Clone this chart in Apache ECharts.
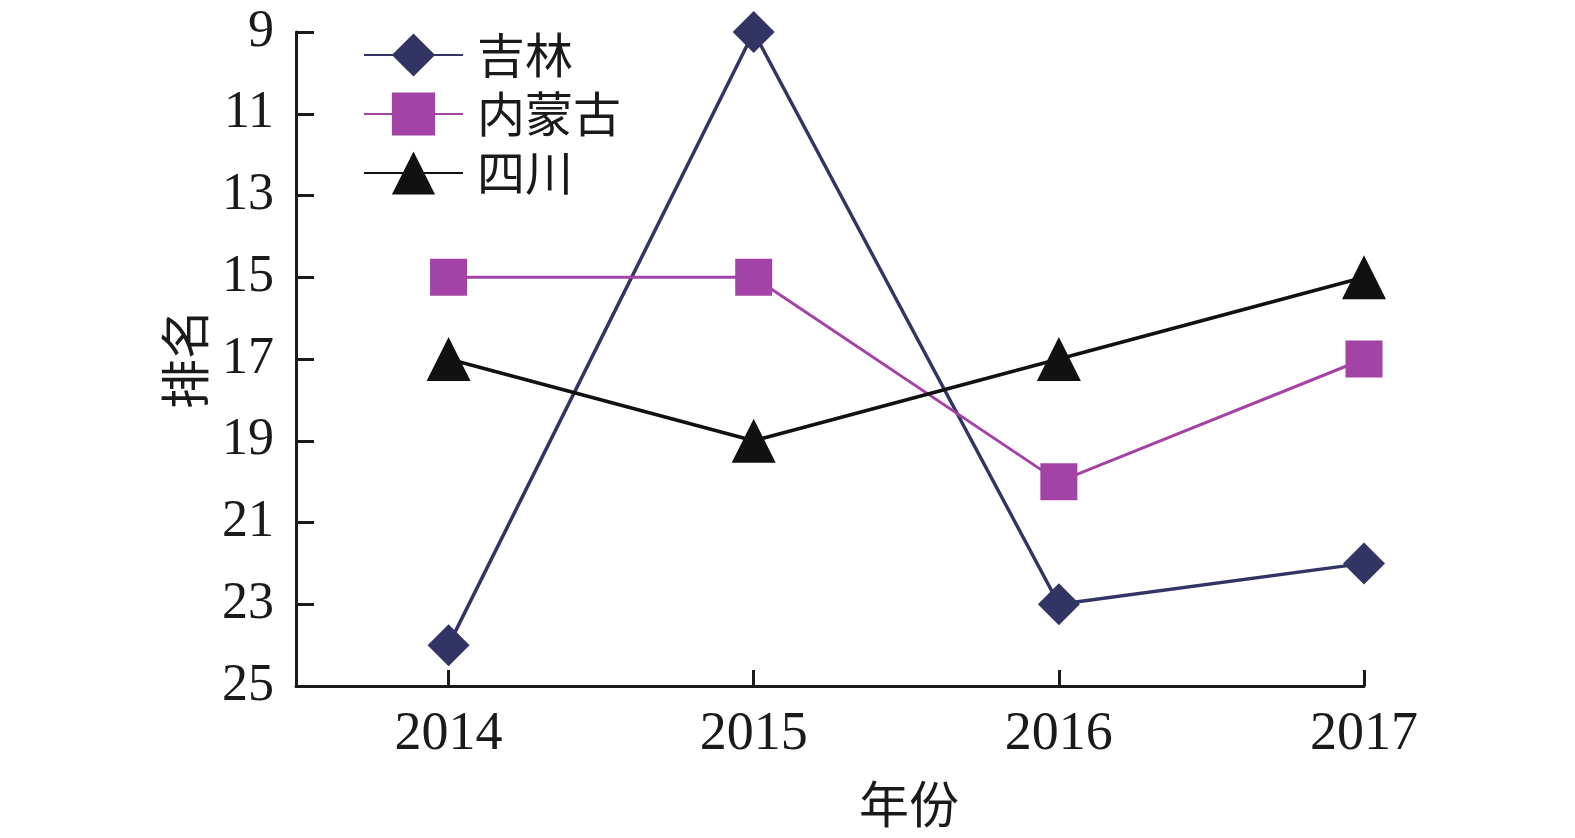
<!DOCTYPE html>
<html>
<head>
<meta charset="utf-8">
<script src="https://cdn.jsdelivr.net/npm/echarts@6/dist/echarts.min.js"></script>
<style>
  html, body { margin: 0; padding: 0; background: #fff; }
  #chart { width: 1575px; height: 838px; }
</style>
</head>
<body>
<div id="chart"></div>
<script>
// 年份
var years = [2014, 2015, 2016, 2017];
// 排名
var jilin = [24, 9, 23, 22];
var neimenggu = [15, 15, 20, 17];
var sichuan = [17, 19, 17, 15];

function pairs(vals) {
  var out = [];
  for (var i = 0; i < years.length; i++) {
    out.push([years[i], vals[i]]);
  }
  return out;
}

var serif = '"Liberation Serif", "Times New Roman", serif';
var cjk = '"Noto Sans CJK SC", sans-serif';

var chart = echarts.init(document.getElementById('chart'));
var option = {
  animation: false,
  backgroundColor: '#fff',
  grid: {
    left: 296,
    right: 211,
    top: 32,
    bottom: 152,
    outerBoundsMode: 'none'
  },
  legend: {
    orient: 'vertical',
    left: 358,
    top: 26,
    itemWidth: 99,
    itemHeight: 54,
    itemGap: 11,
    textStyle: {
      fontFamily: cjk,
      fontSize: 48,
      color: '#1a1a1a',
      padding: [0, 0, 0, 9]
    },
    data: ['吉林', '内蒙古', '四川']
  },
  xAxis: {
    type: 'value',
    min: 2013.5,
    max: 2017,
    name: '年份',
    nameLocation: 'middle',
    nameGap: 93,
    nameTextStyle: {
      fontFamily: cjk,
      fontSize: 50,
      color: '#1a1a1a',
      padding: [0, 0, 0, 158]
    },
    axisLine: {
      lineStyle: { color: '#1a1a1a', width: 3 }
    },
    axisTick: {
      inside: true,
      length: 16,
      customValues: years,
      lineStyle: { color: '#1a1a1a', width: 3 }
    },
    axisLabel: {
      customValues: years,
      margin: 22,
      fontFamily: serif,
      fontSize: 54,
      color: '#1a1a1a',
      formatter: function (v) { return String(v); }
    },
    splitLine: { show: false }
  },
  yAxis: {
    type: 'value',
    inverse: true,
    min: 9,
    max: 25,
    interval: 2,
    name: '排名',
    nameLocation: 'middle',
    nameGap: 86,
    nameTextStyle: {
      fontFamily: cjk,
      fontSize: 50,
      color: '#1a1a1a'
    },
    axisLine: {
      show: true,
      lineStyle: { color: '#1a1a1a', width: 3 }
    },
    axisTick: {
      show: true,
      inside: true,
      length: 18,
      lineStyle: { color: '#1a1a1a', width: 3 }
    },
    axisLabel: {
      margin: 22,
      fontFamily: serif,
      fontSize: 52,
      color: '#1a1a1a'
    },
    splitLine: { show: false }
  },
  series: [{
    name: '吉林',
    type: 'line',
    symbol: 'diamond',
    symbolSize: 42,
    data: pairs(jilin),
    lineStyle: { color: '#323464', width: 3.5 },
    itemStyle: { color: '#323464' }
  }, {
    name: '内蒙古',
    type: 'line',
    symbol: 'rect',
    symbolSize: 37,
    data: pairs(neimenggu),
    lineStyle: { color: '#a343a5', width: 3 },
    itemStyle: { color: '#a343a5' }
  }, {
    name: '四川',
    type: 'line',
    symbol: 'triangle',
    symbolSize: 44,
    data: pairs(sichuan),
    lineStyle: { color: '#111111', width: 3.5 },
    itemStyle: { color: '#111111' }
  }]
};
chart.setOption(option);
</script>
</body>
</html>
